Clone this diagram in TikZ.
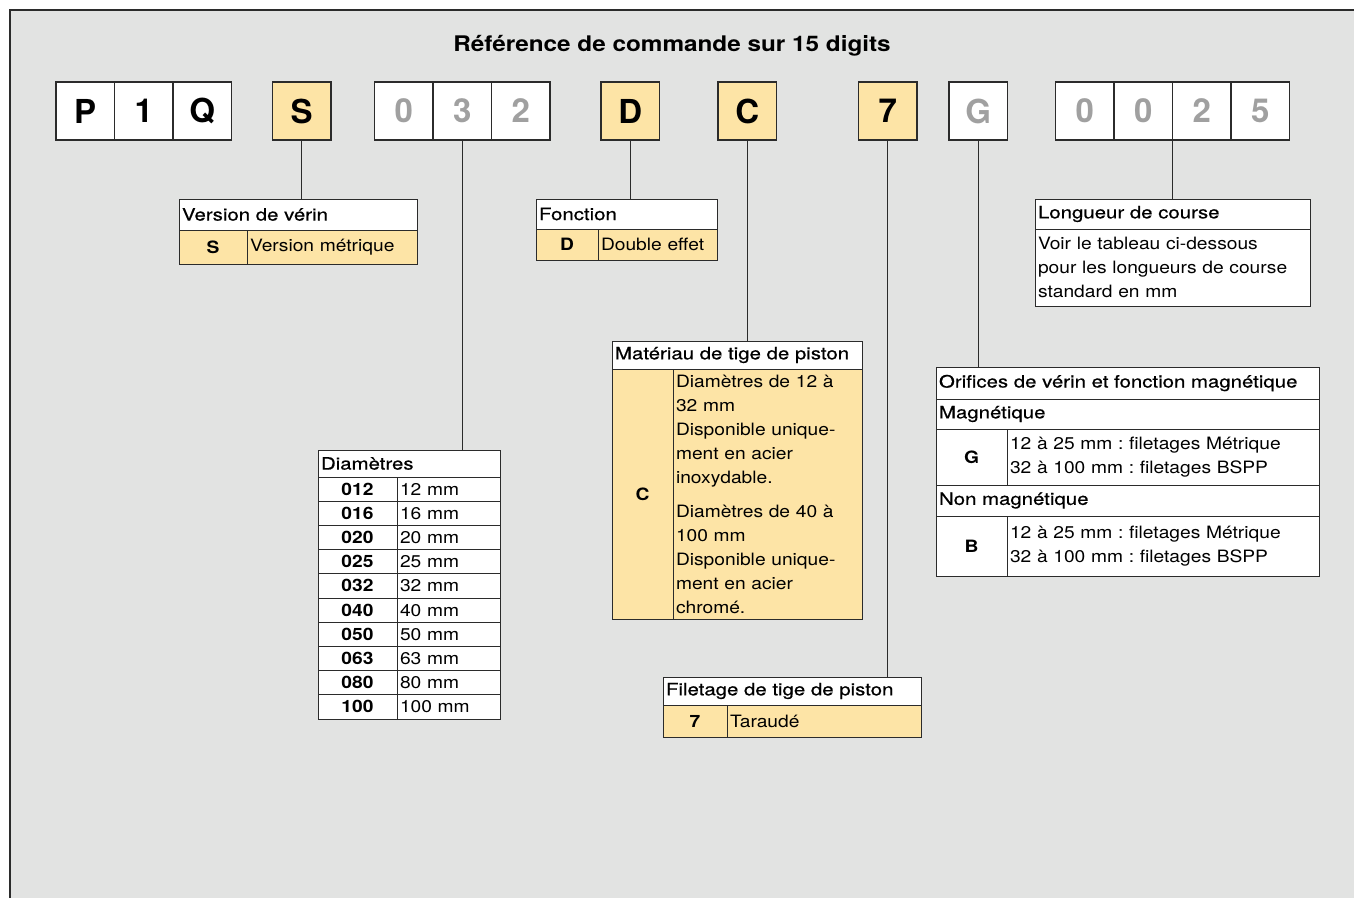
\documentclass[tikz,border=0pt]{standalone}
\usepackage{fontspec}
\setmainfont{TeX Gyre Heros}
\newfontfamily\lightfont[FakeStretch=1.13]{TeX Gyre Heros}
\newfontfamily\medfont[FakeStretch=1.2,FakeBold=0.6]{TeX Gyre Heros}
\usepackage{xcolor}
\usepackage{tikz}
\usetikzlibrary{positioning}
\definecolor{panelGray}{HTML}{E2E3E2}
\definecolor{codeYellow}{HTML}{FDE4A6}
\definecolor{digitGray}{HTML}{A0A0A0}
\definecolor{lineDark}{HTML}{2B2B2B}
\newcommand{\txtfont}{\lightfont\fontsize{17}{24}\selectfont}
\newcommand{\hdfont}{\medfont\fontsize{17}{24}\selectfont}
\frenchspacing

\tikzset{
  digit/.style={draw=lineDark, line width=1.1pt, fill=white, outer sep=0pt,
    minimum width=58.5pt, minimum height=58pt, inner sep=0pt,
    font=\fontsize{33}{33}\selectfont\bfseries},
  digitsel/.style={digit, fill=codeYellow},
  digitdim/.style={digit, text=digitGray},
  hcell/.style={draw=lineDark, line width=1pt, fill=white, anchor=north west,
    outer sep=0pt, inner xsep=3pt, inner ysep=0pt, align=left, font=\txtfont},
  head/.style={hcell, font=\hdfont},
  vcell/.style={hcell, fill=codeYellow},
  ccell/.style={draw=lineDark, line width=1pt, fill=codeYellow, anchor=north west,
    outer sep=0pt, inner sep=0pt, font=\txtfont\bfseries},
  link/.style={draw=lineDark, line width=1pt}
}

\begin{document}
\begin{tikzpicture}[x=1pt, y=-1pt]
    \useasboundingbox (0,0) rectangle (1354,898);
    \fill[white] (0,0) rectangle (1354,898);
    \fill[panelGray] (10,10) rectangle (1354,898);
    \draw[lineDark, line width=1.2pt] (10,898) -- (10,10) -- (1354,10);

    \node[font=\lightfont\fontsize{21.5}{24}\selectfont\bfseries] (title) at (672,46)
        {Référence de commande sur 15 digits};

    % code digits
    \node[digit, anchor=north west] (dP) at (56,82) {P};
    \node[digit, right=0pt of dP] (d1) {1};
    \node[digit, right=0pt of d1] (dQ) {Q};
    \node[digitsel, right=41pt of dQ] (dS) {S};
    \node[digitdim, right=43.5pt of dS] (m0) {0};
    \node[digitdim, right=0pt of m0] (m3) {3};
    \node[digitdim, right=0pt of m3] (m2) {2};
    \node[digitsel, right=51pt of m2] (dD) {D};
    \node[digitsel, right=58.5pt of dD] (dC) {C};
    \node[digitsel, right=82pt of dC] (d7) {7};
    \node[digitdim, right=32pt of d7] (dG) {G};
    \node[digitdim, right=48pt of dG] (n0) {0};
    \node[digitdim, right=0pt of n0] (n1) {0};
    \node[digitdim, right=0pt of n1] (n2) {2};
    \node[digitdim, right=0pt of n2] (n3) {5};

    % version
    \node[head, text width=232pt, minimum height=31pt] (verHead) at (179,199) {Version de vérin};
    \node[ccell, minimum width=68pt, minimum height=34pt] (verCode) at (179,230) {S};
    \node[vcell, text width=164pt, minimum height=34pt] (verVal) at (247,230) {Version métrique};

    % fonction
    \node[head, text width=175pt, minimum height=30pt] (fctHead) at (536,199) {Fonction};
    \node[ccell, minimum width=62pt, minimum height=31pt] (fctCode) at (536,229) {D};
    \node[vcell, text width=113pt, minimum height=31pt] (fctVal) at (598,229) {Double effet};

    % longueur de course
    \node[head, text width=269pt, minimum height=30pt] (lenHead) at (1035,199) {Longueur de course};
    \node[hcell, text width=269pt, minimum height=77pt] (lenBody) at (1035,229)
        {Voir le tableau ci-dessous\\pour les longueurs de course\\standard en mm};

    % diametres
    \node[head, text width=176pt, minimum height=27pt] (diaHead) at (318,450) {Diamètres};
    \foreach \c/\v [count=\i] in {012/12,016/16,020/20,025/25,032/32,040/40,050/50,063/63,080/80,100/100}{
        \node[ccell, fill=white, minimum width=79pt, minimum height=24.2pt] (dia\i)
            at (318,{477+24.2*(\i-1)}) {\c};
        \node[hcell, text width=97pt, minimum height=24.2pt] (diaVal\i)
            at (397,{477+24.2*(\i-1)}) {\v\ mm};
    }

    % materiau de tige
    \node[head, text width=244pt, minimum height=28pt] (matHead) at (612,341) {Matériau de tige de piston};
    \node[ccell, minimum width=61pt, minimum height=250pt] (matCode) at (612,369) {C};
    \node[vcell, text width=183pt, minimum height=250pt] (matVal) at (673,369)
        {Diamètres de 12 à\\32 mm\\Disponible unique-\\ment en acier\\inoxydable.\\[10pt]
         Diamètres de 40 à\\100 mm\\Disponible unique-\\ment en acier\\chromé.};

    % orifices
    \node[head, text width=377pt, minimum height=32pt] (oriHead) at (936,367)
        {Orifices de vérin et fonction magnétique};
    \node[head, text width=377pt, minimum height=30pt] (oriMag) at (936,399) {Magnétique};
    \node[ccell, fill=white, minimum width=71pt, minimum height=56pt] (oriG) at (936,429) {G};
    \node[hcell, text width=306pt, minimum height=56pt] (oriGVal) at (1007,429)
        {12 à 25 mm : filetages Métrique\\32 à 100 mm : filetages BSPP};
    \node[head, text width=377pt, minimum height=31pt] (oriNon) at (936,485) {Non magnétique};
    \node[ccell, fill=white, minimum width=71pt, minimum height=60pt] (oriB) at (936,516) {B};
    \node[hcell, text width=306pt, minimum height=60pt] (oriBVal) at (1007,516)
        {12 à 25 mm : filetages Métrique\\32 à 100 mm : filetages BSPP};

    % filetage
    \node[head, text width=252pt, minimum height=28pt] (filHead) at (663,677) {Filetage de tige de piston};
    \node[ccell, minimum width=64pt, minimum height=32pt] (filCode) at (663,705) {7};
    \node[vcell, text width=188pt, minimum height=32pt] (filVal) at (727,705) {Taraudé};

    % connectors
    \draw[link] (dS.south) -- (dS.south |- verHead.north);
    \draw[link] (m3.south) -- (m3.south |- diaHead.north);
    \draw[link] (dD.south) -- (dD.south |- fctHead.north);
    \draw[link] (dC.south) -- (dC.south |- matHead.north);
    \draw[link] (d7.south) -- (d7.south |- filHead.north);
    \draw[link] (dG.south) -- (dG.south |- oriHead.north);
    \draw[link] (n2.south west) -- (n2.south west |- lenHead.north);
\end{tikzpicture}
\end{document}
